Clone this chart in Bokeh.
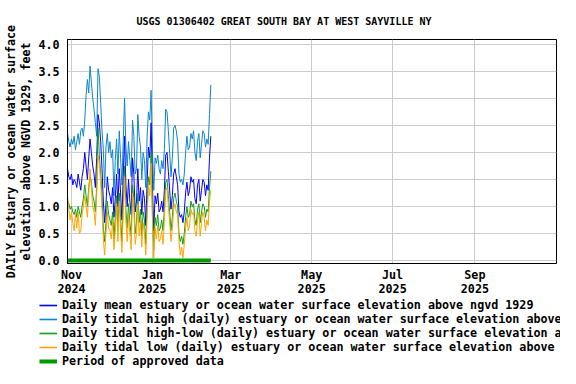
import numpy as np
import pandas as pd
from bokeh.plotting import figure
from bokeh.layouts import column
from bokeh.models import (Range1d, FixedTicker, Legend, LegendItem,
                          NumeralTickFormatter)
from bokeh.embed import file_html
from bokeh.resources import INLINE

# ---------------- data ----------------
start_date = "2024-10-29"

daily_high = [
    2.35, 2.20, 2.10, 2.25, 2.15, 2.30, 2.05, 2.20, 2.35, 2.15,
    2.40, 2.45, 2.30, 2.60, 3.05, 3.35, 3.10, 3.60, 3.30, 3.00,
    2.80, 2.55, 2.30, 3.55, 3.40, 2.90, 2.40, 2.05, 1.35, 2.10,
    2.35, 2.00, 2.20, 1.90, 2.05, 1.20, 1.85, 2.25, 1.60, 2.40,
    1.90, 1.40, 2.20, 3.00, 2.10, 1.75, 2.20, 1.85, 1.55, 2.60,
    2.30, 1.60, 1.70, 2.70, 2.30, 2.10, 1.50, 2.00, 1.85, 1.35,
    2.30, 2.75, 2.60, 3.15, 2.05, 1.30, 1.90, 1.80, 1.95, 1.70,
    1.60, 1.85, 1.70, 2.05, 2.80, 2.75, 2.40, 2.00, 1.55, 1.90,
    2.45, 2.50, 2.40, 2.20, 1.60, 1.45, 1.50, 1.40, 1.60, 2.00,
    2.30, 2.05, 2.10, 2.35, 2.25, 2.40, 2.00, 1.85, 2.20, 2.35,
    1.90, 2.15, 2.40, 2.35, 2.10, 2.25, 2.15, 2.70, 3.25,
]

daily_mean = [
    1.70, 1.55, 1.50, 1.60, 1.40, 1.50, 1.45, 1.35, 1.60, 1.45,
    1.30, 1.55, 1.70, 2.00, 1.75, 1.50, 1.90, 2.25, 2.00, 1.75,
    1.60, 1.35, 1.90, 2.70, 2.55, 2.20, 1.70, 1.10, 0.70, 1.05,
    1.55, 1.30, 1.20, 1.05, 1.35, 0.80, 1.15, 1.60, 1.00, 1.70,
    1.25, 0.75, 1.55, 2.30, 1.40, 1.00, 1.50, 1.10, 0.85, 1.90,
    1.60, 0.90, 1.10, 1.70, 1.10, 1.35, 0.85, 1.30, 1.15, 0.65,
    1.45, 2.10, 1.90, 2.55, 1.40, 0.55, 1.20, 1.05, 1.25, 0.90,
    0.95, 1.10, 0.90, 1.30, 1.95, 2.00, 1.65, 1.30, 0.95, 1.20,
    1.60, 1.70, 1.55, 1.40, 0.90, 0.80, 0.85, 0.70, 0.90, 1.25,
    1.45, 1.20, 1.30, 1.55, 1.45, 1.50, 1.15, 1.05, 1.40, 1.50,
    1.10, 1.30, 1.50, 1.45, 1.20, 1.40, 1.30, 1.90, 2.30,
]

daily_high_low = [
    1.10, 1.05, 0.95, 1.00, 0.90, 0.85, 0.95, 0.80, 1.00, 0.90,
    0.80, 1.00, 1.15, 1.40, 1.20, 1.00, 1.35, 1.55, 1.45, 1.20,
    1.10, 0.90, 1.35, 2.45, 1.95, 1.60, 1.20, 0.60, 0.35, 0.70,
    1.10, 0.85, 0.75, 0.65, 0.90, 0.40, 0.80, 1.20, 0.55, 1.25,
    0.80, 0.35, 1.05, 1.75, 0.95, 0.60, 1.05, 0.70, 0.45, 1.40,
    1.15, 0.50, 0.70, 1.25, 0.70, 0.95, 0.45, 0.90, 0.75, 0.30,
    1.00, 1.55, 1.40, 2.00, 0.95, 0.20, 0.80, 0.65, 0.85, 0.55,
    0.60, 0.75, 0.55, 0.95, 1.45, 1.50, 1.20, 0.90, 0.55, 0.80,
    1.15, 1.25, 1.10, 1.00, 0.50, 0.35, 0.45, 0.30, 0.50, 0.80,
    1.00, 0.80, 0.85, 1.10, 1.00, 1.05, 0.75, 0.65, 0.95, 1.05,
    0.70, 0.90, 1.05, 1.00, 0.80, 0.95, 0.90, 1.35, 1.65,
]

daily_low = [
    1.20, 0.95, 0.75, 0.90, 0.70, 0.55, 0.85, 0.60, 0.90, 0.50,
    0.55, 0.85, 1.00, 1.20, 1.00, 0.80, 1.25, 1.70, 1.35, 1.00,
    0.90, 0.65, 1.20, 1.95, 1.80, 1.45, 0.95, 0.40, 0.10, 0.50,
    0.90, 0.60, 0.55, 0.40, 0.75, 0.20, 0.55, 1.05, 0.35, 1.10,
    0.55, 0.15, 0.90, 1.55, 0.75, 0.35, 0.85, 0.50, 0.20, 1.25,
    0.95, 0.30, 0.50, 1.05, 0.45, 0.75, 0.25, 0.70, 0.50, 0.10,
    0.80, 1.35, 1.20, 1.80, 0.75, 0.05, 0.60, 0.40, 0.65, 0.35,
    0.40, 0.55, 0.30, 0.75, 1.30, 1.35, 1.00, 0.70, 0.35, 0.60,
    0.95, 1.05, 0.90, 0.85, 0.35, 0.10, 0.25, 0.05, 0.30, 0.60,
    0.80, 0.55, 0.65, 0.95, 0.85, 0.90, 0.55, 0.45, 0.75, 0.90,
    0.45, 0.70, 0.90, 0.80, 0.55, 0.75, 0.65, 1.10, 1.30,
]

approved_period = ["2024-10-28", "2025-02-14"]
approved_level = [0.0, 0.0]

tick_dates = ["2024-11-01", "2025-01-01", "2025-03-01", "2025-05-01",
              "2025-07-01", "2025-09-01"]
tick_labels = ["Nov\n2024", "Jan\n2025", "Mar\n2025", "May\n2025",
               "Jul\n2025", "Sep\n2025"]
y_ticks = [0.0, 0.5, 1.0, 1.5, 2.0, 2.5, 3.0, 3.5, 4.0]

x_limits = ["2024-10-29", "2025-11-01 12:00"]
y_limits = [-0.055, 4.09]

title_text = "USGS 01306402 GREAT SOUTH BAY AT WEST SAYVILLE NY"
ylabel_text = "DAILY Estuary or ocean water surface\nelevation above NGVD 1929, feet"
legend_labels = [
    "Daily mean estuary or ocean water surface elevation above ngvd 1929",
    "Daily tidal high (daily) estuary or ocean water surface elevation above ngvd 1929",
    "Daily tidal high-low (daily) estuary or ocean water surface elevation above ngvd 1929",
    "Daily tidal low (daily) estuary or ocean water surface elevation above ngvd 1929",
    "Period of approved data",
]

# ---------------- styles ----------------
FONT = "DejaVu Sans Mono"
FS = "11.7px"
C_MEAN, C_HIGH, C_HL, C_LOW, C_APPR = "#0000ff", "#0c86cc", "#10a010", "#ffa500", "#009900"

dates = pd.date_range(start_date, periods=len(daily_mean), freq="D")

# ---------------- main chart ----------------
p = figure(width=560, height=298, x_axis_type="datetime",
           output_backend="svg", toolbar_location=None,
           x_range=Range1d(pd.Timestamp(x_limits[0]), pd.Timestamp(x_limits[1])),
           y_range=Range1d(*y_limits),
           min_border_left=64, min_border_right=4,
           min_border_top=38, min_border_bottom=34)
p.background_fill_color = "white"
p.border_fill_color = "white"
p.outline_line_color = "black"
p.outline_line_width = 1

p.title.text = title_text
p.title.align = "left"
p.title.offset = 61
p.title.text_font = FONT
p.title.text_font_style = "bold"
p.title.text_font_size = "10px"
p.title.text_color = "black"
if "padding" in p.title.properties():
    p.title.padding = 8

r_high = p.line(dates, daily_high, line_color=C_HIGH, line_width=1)
r_mean = p.line(dates, daily_mean, line_color=C_MEAN, line_width=1)
r_hl = p.line(dates, daily_high_low, line_color=C_HL, line_width=1)
r_low = p.line(dates, daily_low, line_color=C_LOW, line_width=1)
r_appr = p.line([pd.Timestamp(d) for d in approved_period], approved_level,
                line_color=C_APPR, line_width=4)

tick_ms = [pd.Timestamp(d).value / 1e6 for d in tick_dates]
p.xaxis.ticker = FixedTicker(ticks=tick_ms)
p.xaxis.major_label_overrides = {t: l for t, l in zip(tick_ms, tick_labels)}
p.yaxis.ticker = FixedTicker(ticks=y_ticks)
p.yaxis.formatter = NumeralTickFormatter(format="0.0")

for ax in (p.xaxis[0], p.yaxis[0]):
    ax.major_tick_out = 0
    ax.major_tick_in = 0
    ax.minor_tick_out = 0
    ax.minor_tick_in = 0
    ax.axis_line_color = "black"
    ax.major_label_text_font = FONT
    ax.major_label_text_font_style = "bold"
    ax.major_label_text_font_size = FS
    ax.major_label_text_color = "black"
p.xaxis.major_label_standoff = 4
p.xaxis.major_label_text_line_height = 1.0
p.yaxis.major_label_standoff = 8

p.yaxis.axis_label = ylabel_text
p.yaxis.axis_label_text_font = FONT
p.yaxis.axis_label_text_font_style = "bold"
p.yaxis.axis_label_text_font_size = FS
p.yaxis.axis_label_text_color = "black"
p.yaxis.axis_label_text_line_height = 1.1
p.yaxis.axis_label_standoff = 2
p.yaxis.axis_label_text_align = "center"

p.xgrid.ticker = FixedTicker(ticks=tick_ms)
p.ygrid.ticker = FixedTicker(ticks=y_ticks)
p.grid.grid_line_color = "#cccccc"
p.grid.grid_line_width = 1

# ---------------- legend strip ----------------
lg = figure(width=560, height=70, output_backend="svg", toolbar_location=None,
            x_axis_location=None, y_axis_location=None,
            x_range=Range1d(0, 1), y_range=Range1d(0, 1),
            min_border_left=0, min_border_right=0,
            min_border_top=0, min_border_bottom=0)
if "frame_align" in lg.properties():
    lg.frame_align = False
lg.outline_line_color = None
lg.grid.visible = False
lg.background_fill_color = "white"
lg.border_fill_color = "white"

nan = [np.nan]
swatches = [
    lg.line(x=nan, y=nan, line_color=C_MEAN, line_width=1.6),
    lg.line(x=nan, y=nan, line_color=C_HIGH, line_width=1.6),
    lg.line(x=nan, y=nan, line_color=C_HL, line_width=1.6),
    lg.line(x=nan, y=nan, line_color=C_LOW, line_width=1.6),
    lg.line(x=nan, y=nan, line_color=C_APPR, line_width=4),
]
items = [LegendItem(label=l, renderers=[r]) for l, r in zip(legend_labels, swatches)]
legend = Legend(items=items, location=(39, 0), orientation="vertical",
                glyph_width=18, glyph_height=14, label_height=14,
                label_standoff=5, spacing=0, padding=0, margin=0,
                border_line_alpha=0, background_fill_alpha=0,
                label_text_font=FONT, label_text_font_style="bold",
                label_text_font_size=FS, label_text_color="black")
lg.add_layout(legend, "center")

layout = column(p, lg, spacing=0)
open("out.html", "w").write(file_html(layout, INLINE))
